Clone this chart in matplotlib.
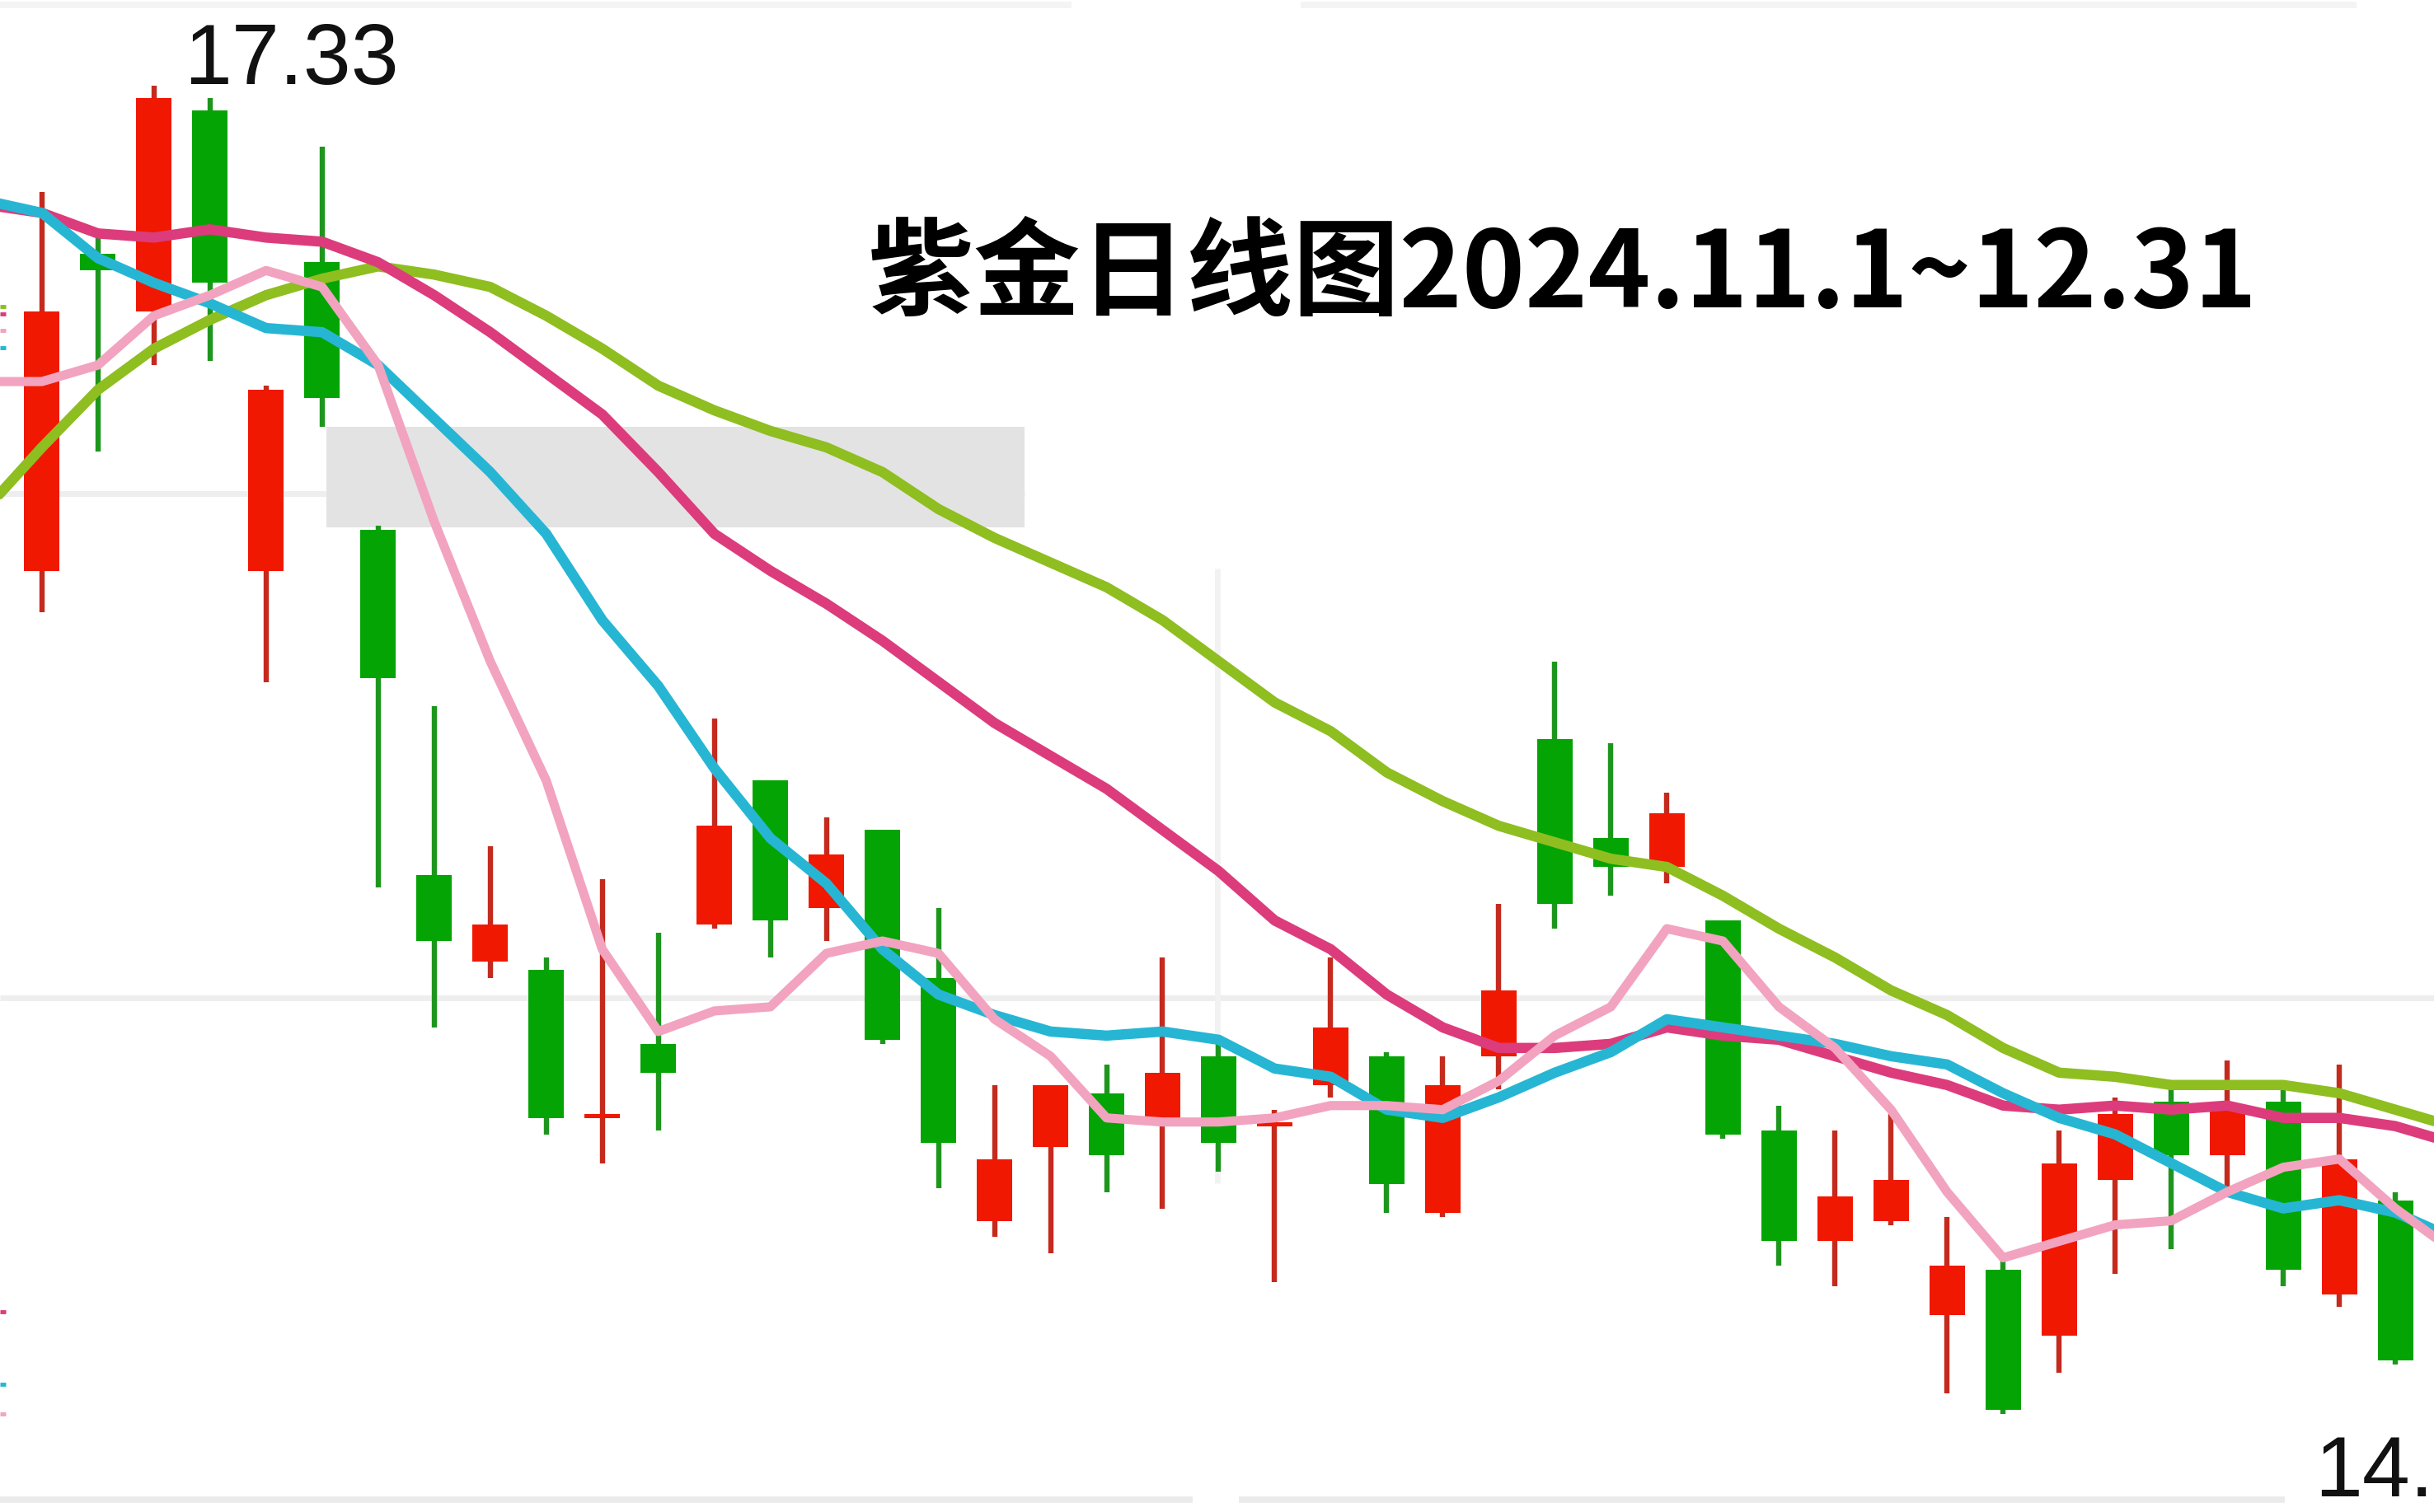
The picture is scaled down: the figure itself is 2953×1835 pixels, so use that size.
import matplotlib

matplotlib.use("Agg")
import matplotlib.pyplot as plt
import numpy as np
from matplotlib.patches import Rectangle

# daily candles, 2024-11-01 .. 2024-12-31 (+ first bar of next window, cut off)
opens = [16.15, 16.92, 16.78, 17.27, 16.15, 16.90, 16.25, 15.41, 15.20, 15.18, 14.82,
         15.00, 15.29, 15.64, 15.33, 15.52, 15.16, 14.57, 14.75, 14.88, 14.82, 14.97,
         14.80, 14.90, 14.97, 14.59, 14.97, 15.74, 15.50, 15.43, 15.30, 14.79, 14.52,
         14.57, 14.34, 14.45, 14.29, 14.67, 14.86, 14.73, 14.86, 14.39, 14.62, 14.33]
highs = [17.07, 16.97, 17.33, 17.30, 16.60, 17.18, 16.26, 15.82, 15.48, 15.21, 15.40,
         15.27, 15.79, 15.64, 15.55, 15.52, 15.33, 14.90, 14.90, 14.95, 15.21, 15.00,
         14.84, 15.21, 14.98, 14.97, 15.34, 15.93, 15.73, 15.61, 15.30, 14.85, 14.79,
         14.83, 14.58, 14.48, 14.79, 14.87, 14.89, 14.96, 14.91, 14.95, 14.64, 14.35]
lows = [16.05, 16.44, 16.65, 16.66, 15.88, 16.50, 15.38, 15.04, 15.16, 14.78, 14.71,
        14.79, 15.28, 15.21, 15.25, 15.00, 14.65, 14.53, 14.49, 14.64, 14.60, 14.69,
        14.42, 14.87, 14.59, 14.58, 14.89, 15.28, 15.36, 15.39, 14.77, 14.46, 14.41,
        14.56, 14.15, 14.10, 14.20, 14.44, 14.50, 14.64, 14.41, 14.36, 14.22, 14.29]
closes = [16.78, 16.88, 17.30, 16.85, 16.59, 16.57, 15.89, 15.25, 15.29, 14.82, 14.83,
          14.93, 15.53, 15.30, 15.46, 15.01, 14.76, 14.72, 14.90, 14.73, 14.93, 14.76,
          14.81, 15.04, 14.66, 14.90, 15.13, 15.34, 15.43, 15.56, 14.78, 14.52, 14.63,
          14.67, 14.46, 14.11, 14.71, 14.83, 14.73, 14.84, 14.45, 14.72, 14.23, 14.31]

# moving averages start one day earlier (index -1)
ma5 = [16.61, 16.61, 16.65, 16.77, 16.82, 16.88, 16.84, 16.65, 16.27, 15.93, 15.64,
       15.23, 15.03, 15.08, 15.09, 15.22, 15.25, 15.22, 15.06, 14.97, 14.82, 14.81,
       14.81, 14.82, 14.85, 14.85, 14.84, 14.91, 15.02, 15.09, 15.28, 15.25, 15.09,
       14.99, 14.84, 14.64, 14.48, 14.52, 14.56, 14.57, 14.64, 14.70, 14.72, 14.60, 14.50]
ma10 = [17.05, 17.02, 16.91, 16.85, 16.80, 16.74, 16.73, 16.65, 16.52, 16.39, 16.24,
        16.03, 15.87, 15.67, 15.50, 15.39, 15.23, 15.12, 15.07, 15.03, 15.02, 15.03,
        15.01, 14.94, 14.92, 14.84, 14.82, 14.87, 14.93, 14.98, 15.06, 15.04, 15.02,
        15.00, 14.97, 14.95, 14.88, 14.82, 14.78, 14.71, 14.64, 14.60, 14.62, 14.59, 14.53]
ma20 = [17.04, 17.02, 16.97, 16.96, 16.98, 16.96, 16.95, 16.90, 16.82, 16.73, 16.63,
        16.53, 16.39, 16.24, 16.15, 16.07, 15.98, 15.88, 15.78, 15.70, 15.62, 15.52,
        15.42, 15.30, 15.23, 15.12, 15.04, 14.99, 14.99, 15.00, 15.04, 15.02, 15.01,
        14.97, 14.93, 14.90, 14.85, 14.84, 14.85, 14.84, 14.85, 14.82, 14.82, 14.80, 14.76]
ma30 = [16.30, 16.45, 16.59, 16.69, 16.76, 16.82, 16.86, 16.89, 16.87, 16.84, 16.77,
        16.69, 16.60, 16.54, 16.49, 16.45, 16.39, 16.30, 16.23, 16.17, 16.11, 16.03,
        15.93, 15.83, 15.76, 15.66, 15.59, 15.53, 15.49, 15.45, 15.43, 15.36, 15.28,
        15.21, 15.13, 15.07, 14.99, 14.93, 14.92, 14.90, 14.90, 14.90, 14.88, 14.84, 14.80]

title = "紫金日线图2024.11.1~12.31"
high_label = "17.33"
low_label = "14."

UP_BODY, UP_WICK = "#F01800", "#C42A1E"
DOWN_BODY, DOWN_WICK = "#04A404", "#1E961E"
MA_STYLE = [
    (ma30, "#8EBE20", 9.0),
    (ma20, "#DC3C7C", 9.0),
    (ma10, "#26B6D4", 9.0),
    (ma5, "#F2A3BF", 8.0),
]
GRID = "#EEEEEE"

# clipped legend fragments at the left edge (axes fraction y, colour)
EDGE_MARKS = [(0.7975, "#8EBE20"), (0.7925, "#DC3C7C"), (0.7815, "#F2A3BF"),
              (0.770, "#26B6D4"), (0.1325, "#DC3C7C"), (0.0845, "#26B6D4"),
              (0.0650, "#F2A3BF")]


def main() -> None:
    fig = plt.figure(figsize=(29.53, 18.35), dpi=100)
    ax = fig.add_axes([0, 0, 1, 1])
    ax.set_xlim(-0.748, 42.69)
    ax.set_ylim(13.862, 17.5375)
    ax.axis("off")

    # faint background grid pieces
    ax.hlines([17.526, 17.526], [-0.748, 22.47], [18.37, 41.30], color="#F4F4F4", lw=5.5, zorder=0)
    ax.hlines(16.338, -0.748, 17.53, color=GRID, lw=5.0, zorder=0)
    ax.hlines(15.111, -0.748, 42.69, color=GRID, lw=5.0, zorder=0)
    ax.hlines([13.892, 13.892], [-0.748, 21.36], [20.53, 40.03], color="#EBEBEB", lw=5.5, zorder=0)
    ax.vlines(20.98, 14.662, 16.156, color="#F2F2F2", lw=5.0, zorder=0)

    # highlighted zone
    ax.add_patch(Rectangle((5.07, 16.255), 12.46, 0.245, facecolor="#E3E3E3",
                           edgecolor="none", zorder=1))

    for y, color in EDGE_MARKS:
        ax.plot([0, 0.0025], [y, y], transform=ax.transAxes, color=color, lw=3.5,
                solid_capstyle="butt", zorder=1)

    o = np.array(opens)
    h = np.array(highs)
    l = np.array(lows)
    c = np.array(closes)
    x = np.arange(len(o))
    up = c >= o
    wick_colors = np.where(up, UP_WICK, DOWN_WICK)
    body_colors = np.where(up, UP_BODY, DOWN_BODY)

    ax.vlines(x, l, h, colors=wick_colors, lw=4.6, zorder=2)
    bottom = np.minimum(o, c)
    height = np.maximum(np.abs(c - o), 0.008)
    ax.bar(x, height, bottom=bottom, width=0.63, color=body_colors, linewidth=0, zorder=3)

    x_ma = np.arange(-1, len(ma5) - 1)
    for values, color, lw in MA_STYLE:
        ax.plot(x_ma, values, color=color, lw=lw, solid_joinstyle="round",
                solid_capstyle="round", zorder=4)

    ax.text(0.0756, 0.9446, high_label, transform=ax.transAxes, fontsize=75,
            family="Liberation Sans", va="baseline", ha="left", color="#111111", zorder=6)
    ax.text(0.951, 0.0106, low_label, transform=ax.transAxes, fontsize=75,
            family="Liberation Sans", va="baseline", ha="left", color="#111111", zorder=6)
    ax.text(0.3565, 0.817, title, transform=ax.transAxes, fontsize=93, fontweight="bold",
            family=["Noto Sans CJK SC", "DejaVu Sans"], va="center", ha="left",
            color="#000000", zorder=6)

    fig.savefig("out.png", dpi=100)
    plt.close(fig)


if __name__ == "__main__":
    main()
